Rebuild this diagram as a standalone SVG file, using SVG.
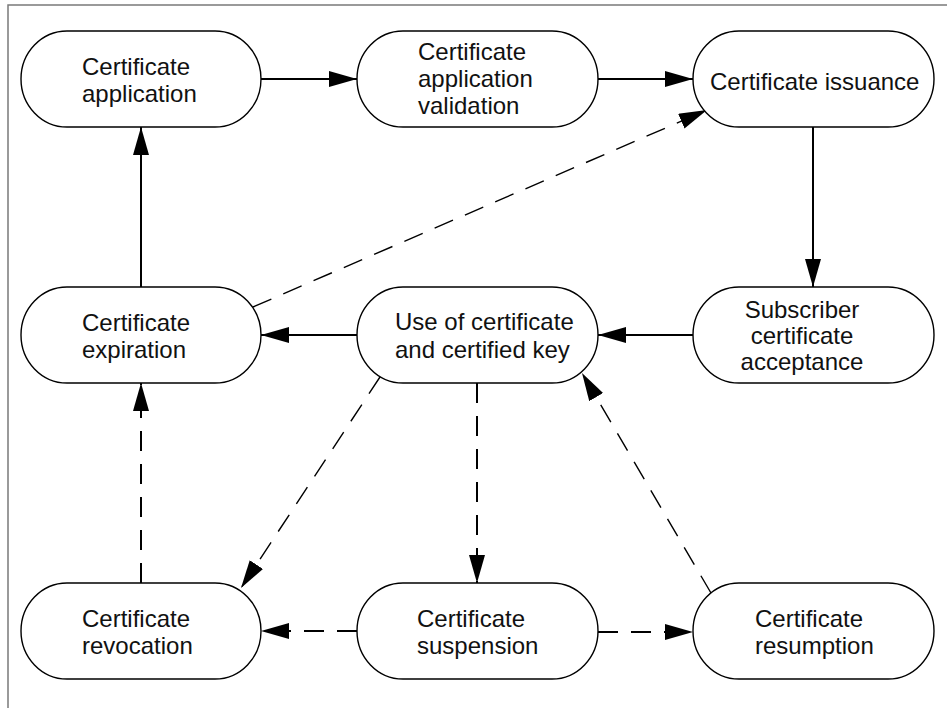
<svg xmlns="http://www.w3.org/2000/svg" width="947" height="708" viewBox="0 0 947 708">
  <defs>
    <marker id="arrow" markerUnits="userSpaceOnUse" markerWidth="30" markerHeight="18" refX="28" refY="8" orient="auto">
      <path d="M0,0 L28,8 L0,16 z" fill="#000"/>
    </marker>
    <style>
      .node rect { fill: #fff; stroke: #000; stroke-width: 1.4; }
      .node text { font-family: "Liberation Sans", Arial, Helvetica, sans-serif; font-size: 24px; fill: #111; }
      .solid { fill: none; stroke: #000; stroke-width: 2; marker-end: url(#arrow); }
      .dash { fill: none; stroke: #000; stroke-width: 2; stroke-dasharray: 20 13; marker-end: url(#arrow); }
      .dash-thin { fill: none; stroke: #000; stroke-width: 1.4; stroke-dasharray: 20 13; marker-end: url(#arrow); }
    </style>
  </defs>

  <!-- page frame -->
  <rect x="8" y="5" width="960" height="730" fill="#fff" stroke="#7a7a7a" stroke-width="1.5"/>

  <!-- connectors -->
  <g id="connectors">
    <line class="solid" x1="261" y1="79" x2="357" y2="79"/>
    <line class="solid" x1="598" y1="79" x2="693" y2="79"/>
    <line class="solid" x1="813" y1="127" x2="813" y2="287"/>
    <line class="solid" x1="693" y1="335" x2="598" y2="335"/>
    <line class="solid" x1="357" y1="335" x2="261" y2="335"/>
    <line class="solid" x1="141" y1="287" x2="141" y2="127"/>
    <line class="dash-thin" x1="253" y1="307" x2="707" y2="110"/>
    <line class="dash-thin" x1="380" y1="377" x2="241" y2="588"/>
    <line class="dash" x1="477" y1="383" x2="477" y2="583"/>
    <line class="dash-thin" x1="711" y1="593" x2="582" y2="373"/>
    <line class="dash" x1="141" y1="583" x2="141" y2="383"/>
    <line class="dash" x1="357" y1="631" x2="261" y2="631"/>
    <line class="dash" x1="598" y1="632" x2="693" y2="632"/>
  </g>

  <!-- top row -->
  <g id="cert-application" class="node">
    <rect x="21" y="31" width="240" height="96" rx="46" ry="48"/>
    <text x="82" y="75">Certificate</text>
    <text x="82" y="102">application</text>
  </g>
  <g id="cert-application-validation" class="node">
    <rect x="357" y="31" width="241" height="96" rx="46" ry="48"/>
    <text x="418" y="60">Certificate</text>
    <text x="418" y="87">application</text>
    <text x="418" y="114">validation</text>
  </g>
  <g id="cert-issuance" class="node">
    <rect x="693" y="31" width="241" height="96" rx="46" ry="48"/>
    <text x="710" y="90">Certificate issuance</text>
  </g>

  <!-- middle row -->
  <g id="cert-expiration" class="node">
    <rect x="21" y="287" width="240" height="96" rx="46" ry="48"/>
    <text x="82" y="331">Certificate</text>
    <text x="82" y="358">expiration</text>
  </g>
  <g id="cert-use" class="node">
    <rect x="357" y="287" width="241" height="96" rx="46" ry="48"/>
    <text x="395" y="330">Use of certificate</text>
    <text x="395" y="358">and certified key</text>
  </g>
  <g id="subscriber-acceptance" class="node">
    <rect x="693" y="287" width="241" height="96" rx="46" ry="48"/>
    <text x="802" y="318" text-anchor="middle">Subscriber</text>
    <text x="802" y="344" text-anchor="middle">certificate</text>
    <text x="802" y="370" text-anchor="middle">acceptance</text>
  </g>

  <!-- bottom row -->
  <g id="cert-revocation" class="node">
    <rect x="21" y="583" width="240" height="96" rx="46" ry="48"/>
    <text x="82" y="627">Certificate</text>
    <text x="82" y="654">revocation</text>
  </g>
  <g id="cert-suspension" class="node">
    <rect x="357" y="583" width="241" height="96" rx="46" ry="48"/>
    <text x="417" y="627">Certificate</text>
    <text x="417" y="654">suspension</text>
  </g>
  <g id="cert-resumption" class="node">
    <rect x="693" y="583" width="241" height="96" rx="46" ry="48"/>
    <text x="755" y="627">Certificate</text>
    <text x="755" y="654">resumption</text>
  </g>
</svg>
